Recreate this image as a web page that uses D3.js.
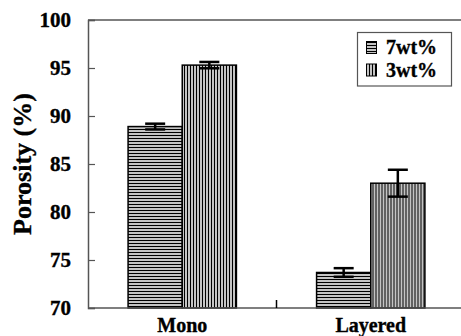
<!DOCTYPE html>
<html>
<head>
<meta charset="utf-8">
<script src="https://cdn.jsdelivr.net/npm/d3@7"></script>
<style>
  html, body { margin: 0; padding: 0; background: #fff; }
  svg { display: block; }
  svg text { font-family: "Liberation Serif", "DejaVu Serif", serif !important; font-weight: bold; fill: #000; stroke: #000; stroke-width: 0.35px; }
</style>
</head>
<body>
<svg id="chart" width="461" height="336"></svg>
<script>
// Porosity by structure type and binder content
const categories = ["Mono", "Layered"];
const seriesNames = ["7wt%", "3wt%"];
const values7 = [88.9, 73.7];
const values3 = [95.3, 83.0];
const errors7 = [0.3, 0.45];
const errors3 = [0.33, 1.4];
const yTicks = [70, 75, 80, 85, 90, 95, 100];

const svg = d3.select("#chart");
const plotLeft = 88, plotTop = 20, plotBottom = 308, plotRight = 465;

const y = d3.scaleLinear().domain([70, 100]).range([plotBottom, plotTop]);
const x0 = d3.scaleBand().domain(categories).range([plotLeft, plotRight]).padding(0);
const x1 = d3.scaleBand().domain(seriesNames).range([0, x0.bandwidth()])
  .paddingInner(0).paddingOuter(0.74);

// Hatch patterns: horizontal stripes for 7wt%, vertical for 3wt%
const defs = svg.append("defs");
const ph = defs.append("pattern").attr("id", "hatchH").attr("patternUnits", "userSpaceOnUse")
  .attr("width", 4).attr("height", 3);
ph.append("rect").attr("width", 4).attr("height", 3).attr("fill", "#c4c4c4");
ph.append("rect").attr("y", 0).attr("width", 4).attr("height", 1).attr("fill", "#000");
const pv = defs.append("pattern").attr("id", "hatchV").attr("patternUnits", "userSpaceOnUse")
  .attr("width", 3).attr("height", 4);
pv.append("rect").attr("width", 3).attr("height", 4).attr("fill", "#c4c4c4");
pv.append("rect").attr("x", 0).attr("width", 1).attr("height", 4).attr("fill", "#000");
const fills = { "7wt%": "url(#hatchH)", "3wt%": "url(#hatchV)" };

const rows = categories.map((c, i) => ({
  cat: c,
  items: [
    { s: "7wt%", v: values7[i], e: errors7[i] },
    { s: "3wt%", v: values3[i], e: errors3[i] }
  ]
}));

// Frame: top border line
svg.append("line").attr("x1", plotLeft).attr("x2", 461).attr("y1", plotTop).attr("y2", plotTop)
  .attr("stroke", "#555").attr("stroke-width", 1.5);

// Bars
const groups = svg.selectAll("g.grp").data(rows).join("g")
  .attr("class", "grp").attr("transform", d => `translate(${x0(d.cat)},0)`);

groups.selectAll("rect").data(d => d.items).join("rect")
  .attr("x", d => x1(d.s))
  .attr("y", d => y(d.v))
  .attr("width", x1.bandwidth())
  .attr("height", d => y(70) - y(d.v))
  .attr("fill", d => fills[d.s])
  .attr("stroke", "#000").attr("stroke-width", 1.5);

// Error bars
const eb = groups.selectAll("g.err").data(d => d.items).join("g").attr("class", "err");
eb.append("line")
  .attr("x1", d => x1(d.s) + x1.bandwidth() / 2).attr("x2", d => x1(d.s) + x1.bandwidth() / 2)
  .attr("y1", d => y(d.v + d.e)).attr("y2", d => y(d.v - d.e))
  .attr("stroke", "#000").attr("stroke-width", 2.5);
eb.selectAll("line.cap").data(d => [{ s: d.s, yy: d.v + d.e }, { s: d.s, yy: d.v - d.e }]).join("line")
  .attr("class", "cap")
  .attr("x1", d => x1(d.s) + x1.bandwidth() / 2 - 10).attr("x2", d => x1(d.s) + x1.bandwidth() / 2 + 10)
  .attr("y1", d => y(d.yy)).attr("y2", d => y(d.yy))
  .attr("stroke", "#000").attr("stroke-width", 2.5);

// Y axis
const yAxis = d3.axisLeft(y).tickValues(yTicks).tickSize(-7).tickPadding(17).tickFormat(d3.format("d"));
const gy = svg.append("g").attr("transform", `translate(${plotLeft},0)`).call(yAxis);
gy.attr("font-family", null).attr("font-size", null);
gy.select(".domain").attr("stroke", "#555").attr("stroke-width", 1.5);
gy.selectAll(".tick line").attr("stroke", "#555").attr("stroke-width", 1.2);
gy.selectAll(".tick text").style("font-size", "21px");

// X axis with separators between categories
const gx = svg.append("g").attr("transform", `translate(0,${plotBottom})`);
gx.append("line").attr("x1", plotLeft).attr("x2", plotRight).attr("stroke", "#555").attr("stroke-width", 1.5);
gx.selectAll("line.sep").data(categories.slice(1)).join("line").attr("class", "sep")
  .attr("x1", d => x0(d)).attr("x2", d => x0(d)).attr("y1", 0).attr("y2", -8)
  .attr("stroke", "#000").attr("stroke-width", 1.5);
gx.selectAll("text").data(categories).join("text")
  .attr("x", d => x0(d) + x0.bandwidth() / 2).attr("y", 24)
  .attr("text-anchor", "middle").style("font-size", "20px")
  .text(d => d);

// Y axis title
svg.append("text").attr("transform", "translate(31,164) rotate(-90)")
  .attr("text-anchor", "middle").style("font-size", "26px")
  .text("Porosity (%)");

// Legend
const lg = svg.append("g");
lg.append("rect").attr("x", 357.5).attr("y", 32.5).attr("width", 94).attr("height", 53.5)
  .attr("fill", "#fff").attr("stroke", "#555").attr("stroke-width", 1.2);
const li = lg.selectAll("g.li").data(seriesNames).join("g").attr("class", "li")
  .attr("transform", (d, i) => `translate(0,${i * 22.5})`);
li.append("rect").attr("x", 366.5).attr("y", 41.5).attr("width", 10).attr("height", 12)
  .attr("fill", d => fills[d]).attr("stroke", "#000").attr("stroke-width", 1);
li.append("text").attr("x", 386).attr("y", 54).style("font-size", "20px")
  .text(d => d);
</script>
</body>
</html>
